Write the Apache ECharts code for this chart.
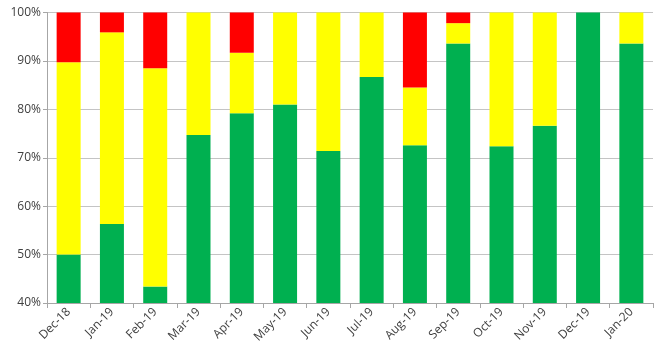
<!DOCTYPE html>
<html><head><meta charset="utf-8">
<script src="https://cdn.jsdelivr.net/npm/echarts@6/dist/echarts.min.js"></script>
<style>html,body{margin:0;padding:0;background:#fff}#c{width:660px;height:356px}</style>
</head><body><div id="c"></div>
<script>
const categories = ['Dec-18','Jan-19','Feb-19','Mar-19','Apr-19','May-19','Jun-19','Jul-19','Aug-19','Sep-19','Oct-19','Nov-19','Dec-19','Jan-20'];
const greenValues = [50.0, 56.3, 43.4, 74.7, 79.2, 81.0, 71.4, 86.7, 72.6, 93.6, 72.4, 76.6, 100, 93.6];
const yellowValues = [39.7, 39.6, 45.1, 25.3, 12.5, 19.0, 28.6, 13.3, 11.9, 4.2, 27.6, 23.4, 0, 6.4];
const redValues = [10.3, 4.1, 11.5, 0, 8.3, 0, 0, 0, 15.5, 2.2, 0, 0, 0, 0];

const chart = echarts.init(document.getElementById('c'), null, {renderer:'canvas'});
const mk = (name, data, color) => ({
  name, type:'bar', stack:'s', data, barWidth:24,
  itemStyle:{color}, emphasis:{disabled:true}
});
chart.setOption({
  animation:false,
  grid:{left:47, right:7, top:12.5, bottom:53},
  xAxis:{
    type:'category', data:categories,
    axisLine:{lineStyle:{color:'#a6a6a6'}},
    axisTick:{show:true, length:5, lineStyle:{color:'#a6a6a6'}},
    axisLabel:{rotate:45, color:'#404040', fontSize:12, fontFamily:'Open Sans', margin:7}
  },
  yAxis:{
    type:'value', min:40, max:100, interval:10,
    axisLine:{show:true, lineStyle:{color:'#a6a6a6'}},
    axisTick:{show:true, length:4, lineStyle:{color:'#a6a6a6'}},
    splitLine:{lineStyle:{color:'#c4c4c4'}},
    axisLabel:{formatter:'{value}%', color:'#404040', fontSize:12, fontFamily:'Open Sans', margin:6}
  },
  series:[mk('Green', greenValues, '#00B050'), mk('Yellow', yellowValues, '#FFFF00'), mk('Red', redValues, '#FF0000')]
});
</script></body></html>
